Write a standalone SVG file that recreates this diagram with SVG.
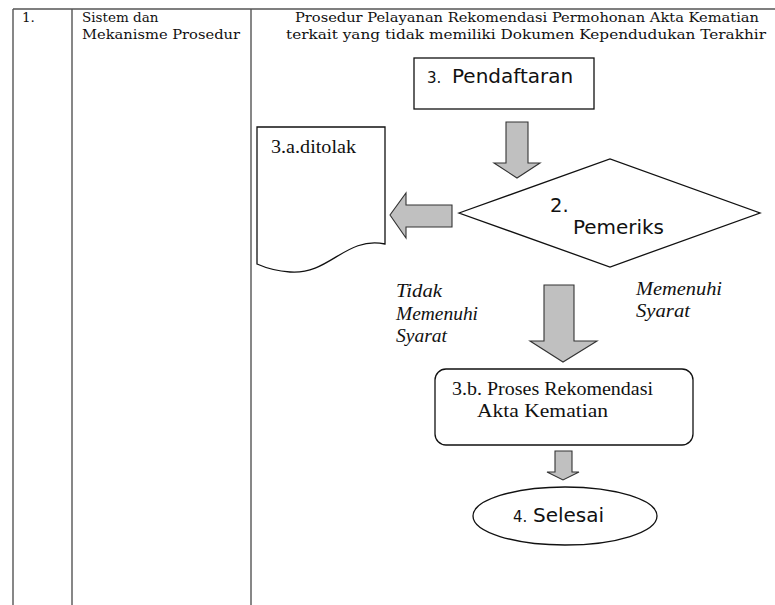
<svg xmlns="http://www.w3.org/2000/svg" width="775" height="605" viewBox="0 0 775 605">
<style>
.grid{stroke:#555;stroke-width:1.4;fill:none}
.hdr{font-family:"DejaVu Serif","Liberation Serif",serif;font-size:13.5px;fill:#111}
.box{fill:#fff;stroke:#111;stroke-width:1.3}
.arr{fill:#c0c0c0;stroke:#333;stroke-width:1.1;stroke-linejoin:miter}
.sans{font-family:"DejaVu Sans","Liberation Sans",sans-serif;fill:#111}
.serif{font-family:"Liberation Serif","Times New Roman",serif;fill:#111;font-size:19px}
.it{font-family:"Liberation Serif","Times New Roman",serif;font-style:italic;fill:#111;font-size:19px}
</style>
<rect width="775" height="605" fill="#fff"/>
<g id="table">
<path class="grid" d="M13,9 H775 M13,9 V605 M72,9 V605 M251,9 V605"/>
<text class="hdr" x="22" y="22">1.</text>
<text class="hdr" x="82" y="22">Sistem dan</text>
<text class="hdr" x="82" y="39" textLength="158" lengthAdjust="spacingAndGlyphs">Mekanisme Prosedur</text>
<text class="hdr" x="295" y="22" textLength="464" lengthAdjust="spacingAndGlyphs">Prosedur Pelayanan Rekomendasi Permohonan Akta Kematian</text>
<text class="hdr" x="286" y="39" textLength="480" lengthAdjust="spacingAndGlyphs">terkait yang tidak memiliki Dokumen Kependudukan Terakhir</text>
</g>
<g id="pendaftaran">
<rect class="box" x="414" y="58" width="180" height="51"/>
<text class="sans" x="427" y="83"><tspan font-size="15">3.</tspan><tspan x="452" font-size="20">Pendaftaran</tspan></text>
</g>
<g id="ditolak">
<path class="box" d="M257,127 H385 V244 C345,236 330,275 290,272 C276,271 266,268 257,264 Z"/>
<text class="serif" x="271" y="153" textLength="85" lengthAdjust="spacingAndGlyphs">3.a.ditolak</text>
</g>
<g id="pemeriks">
<polygon class="box" points="459,213 610,159 760,213 610,267"/>
<text class="sans" x="550" y="212" font-size="19.5">2.</text>
<text class="sans" x="573" y="234" font-size="19.5" textLength="91" lengthAdjust="spacingAndGlyphs">Pemeriks</text>
</g>
<g id="proses">
<rect class="box" x="435" y="369" width="258" height="76" rx="11"/>
<text class="serif" x="452" y="395" textLength="201" lengthAdjust="spacingAndGlyphs">3.b. Proses Rekomendasi</text>
<text class="serif" x="477" y="417" textLength="131" lengthAdjust="spacingAndGlyphs">Akta Kematian</text>
</g>
<g id="selesai">
<ellipse class="box" cx="565" cy="516" rx="92" ry="29"/>
<text class="sans" x="513" y="522"><tspan font-size="15">4.</tspan><tspan x="533" font-size="20">Selesai</tspan></text>
</g>
<g id="connectors">
<polygon class="arr" points="506,122 528,122 528,163 540,163 517,178 494,163 506,163"/>
<polygon class="arr" points="452,205 452,227 406,227 406,238 390,215 406,193 406,205"/>
<polygon class="arr" points="544,285 574,285 574,341 597,341 563,362 530,341 544,341"/>
<polygon class="arr" points="555,451 572,451 572,472 579,472 563,480 547,472 555,472"/>
<text class="it" x="396" y="297" textLength="46" lengthAdjust="spacingAndGlyphs">Tidak</text>
<text class="it" x="396" y="320" textLength="82" lengthAdjust="spacingAndGlyphs">Memenuhi</text>
<text class="it" x="396" y="342" textLength="51" lengthAdjust="spacingAndGlyphs">Syarat</text>
<text class="it" x="636" y="295" textLength="86" lengthAdjust="spacingAndGlyphs">Memenuhi</text>
<text class="it" x="636" y="317" textLength="54" lengthAdjust="spacingAndGlyphs">Syarat</text>
</g>
</svg>
